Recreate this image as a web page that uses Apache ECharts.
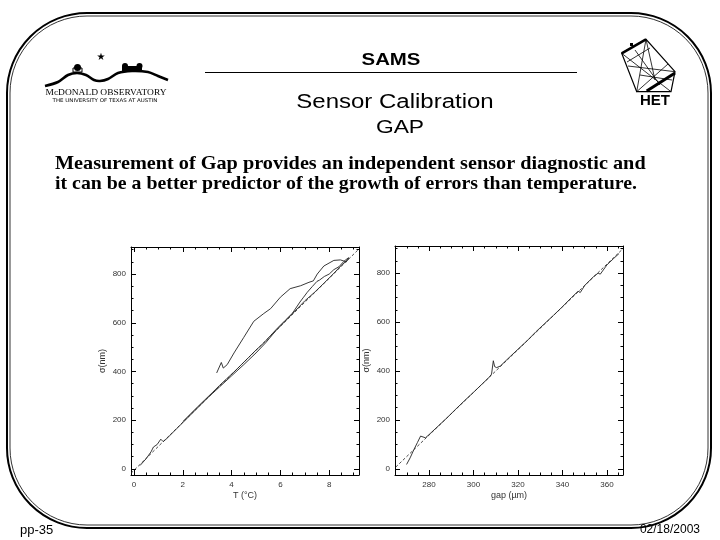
<!DOCTYPE html>
<html>
<head>
<meta charset="utf-8">
<script src="https://cdn.jsdelivr.net/npm/echarts@6/dist/echarts.min.js"></script>
<style>
html,body{margin:0;padding:0;background:#fff;}
#c{width:720px;height:540px;}
</style>
</head>
<body>
<div id="c"></div>
<script>
// ---------- data ----------
const leftXTicks = [0, 2, 4, 6, 8];
const yTicks = [0, 200, 400, 600, 800];
const rightXTicks = [280, 300, 320, 340, 360];

const leftFit = [[-0.12, -18], [9.22, 903]];
const leftLowerA = [[0.25, 14], [0.5, 42], [0.7, 70], [0.8, 90], [0.95, 100], [1.1, 122], [1.2, 112], [1.35, 125], [1.6, 150], [2.0, 190], [2.5, 240], [3.0, 290], [3.5, 336], [4.0, 382], [4.5, 428], [5.0, 476], [5.4, 518], [5.8, 566], [6.2, 607], [6.6, 648], [7.0, 690], [7.4, 725], [7.8, 764], [8.2, 804], [8.5, 836], [8.8, 862]];
const leftLowerB = [[8.8, 868], [8.6, 852], [8.4, 830], [8.19, 818], [8.0, 800], [7.8, 790], [7.6, 775], [7.5, 770], [7.3, 748], [7.1, 725], [6.95, 705], [6.8, 685], [6.5, 640], [6.2, 610], [5.9, 580], [5.6, 548], [5.3, 515], [5.0, 488], [4.7, 458], [4.4, 428], [4.1, 398], [3.8, 370], [3.5, 342], [3.2, 312], [2.9, 283], [2.6, 254], [2.3, 224], [2.0, 194]];
const leftUpper = [[3.39, 394], [3.58, 437], [3.66, 414], [3.82, 428], [4.10, 476], [4.50, 540], [4.91, 606], [5.32, 638], [5.60, 658], [6.0, 705], [6.4, 740], [6.83, 752], [7.17, 766], [7.35, 772], [7.51, 800], [7.78, 833], [8.19, 856], [8.46, 858], [8.7, 850], [8.8, 866]];

const rightFit = [[265, 7], [367.2, 900]];
const rightData = [[269.9, 18], [271.5, 45], [273.2, 79], [274.8, 108], [276.2, 134], [277.0, 128], [278.4, 127], [280, 140], [284, 174], [288, 208], [292, 244], [296, 279], [300, 313], [304, 348], [307, 374], [308.1, 387], [308.9, 442], [309.5, 418], [310.4, 414], [312, 420], [316, 455], [320, 489], [324, 523], [328, 560], [332, 594], [336, 628], [340, 663], [344, 700], [347, 726], [348, 721], [350, 750], [354, 786], [356, 800], [357, 796], [360, 834], [363, 860], [365.4, 880]];

// ---------- helpers ----------
function range(a, b, s) { const r = []; for (let v = a; v <= b + 1e-9; v += s) r.push(+v.toFixed(4)); return r; }
const leftXMinor = range(0, 9, 0.5);
const yMinor = range(0, 900, 50);
const rightXMinor = range(265, 365, 5);

const labelFont = { fontFamily: 'Liberation Sans', fontSize: 8, color: '#333' };
const black = '#000';

function axisSet(kind, grid, min, max, majors, minors, name, nameGap) {
  const sides = kind === 'x' ? ['bottom', 'top'] : ['left', 'right'];
  const out = [];
  sides.forEach((pos, si) => {
    [true, false].forEach(isMajor => {
      const a = {
        type: 'value', gridIndex: grid, position: pos, min: min, max: max,
        axisLine: { show: isMajor, onZero: false, lineStyle: { color: black, width: 1 } },
        axisTick: { show: true, inside: true, length: isMajor ? 5 : 2.5, customValues: isMajor ? majors : minors, lineStyle: { color: black, width: 1 } },
        axisLabel: { show: isMajor && si === 0, customValues: majors, margin: kind === 'x' ? 6 : 5, ...labelFont },
        splitLine: { show: false }
      };
      if (isMajor && si === 0) {
        a.name = name; a.nameLocation = 'middle'; a.nameGap = nameGap;
        a.nameTextStyle = { fontFamily: 'Liberation Sans', fontSize: 9, color: '#333' };
      }
      out.push(a);
    });
  });
  return out;
}

const xAxes = [].concat(
  axisSet('x', 0, -0.12, 9.22, leftXTicks, leftXMinor, 'T (°C)', 16),
  axisSet('x', 1, 264.7, 367.2, rightXTicks, rightXMinor, 'gap (µm)', 16)
);
const yAxes = [].concat(
  axisSet('y', 0, -25, 911, yTicks, yMinor, 'σ(nm)', 24),
  axisSet('y', 1, -25, 911, yTicks, yMinor, 'σ(nm)', 24)
);

function lineSeries(data, xi, yi, dashed) {
  return {
    type: 'line', data: data, xAxisIndex: xi, yAxisIndex: yi, showSymbol: false, symbol: 'none',
    silent: true, animation: false,
    lineStyle: { color: '#222', width: dashed ? 0.8 : 0.9, type: dashed ? [3, 2] : 'solid' }
  };
}

// ---------- graphic (slide decoration) ----------
const g = [];
function txt(x, y, text, font, align, sx) {
  return { type: 'text', x: x, y: y, scaleX: sx || 1, style: { text: text, font: font, fill: '#000', textAlign: align, textVerticalAlign: 'middle' } };
}
// rounded border (double)
g.push({ type: 'rect', shape: { x: 7, y: 13, width: 704, height: 515, r: 80 }, style: { fill: 'none', stroke: '#000', lineWidth: 2 } });
g.push({ type: 'rect', shape: { x: 10, y: 16, width: 698, height: 509, r: 77 }, style: { fill: 'none', stroke: '#000', lineWidth: 0.8 } });
// titles
g.push(txt(391, 60, 'SAMS', 'bold 17px "Liberation Sans"', 'center', 1.2));
g.push({ type: 'line', shape: { x1: 205, y1: 72.5, x2: 577, y2: 72.5 }, style: { stroke: '#000', lineWidth: 1 } });
g.push(txt(395, 102, 'Sensor Calibration', '20px "Liberation Sans"', 'center', 1.2));
g.push(txt(400, 128, 'GAP', '19px "Liberation Sans"', 'center', 1.2));
g.push(txt(55, 164, 'Measurement of Gap provides an independent sensor diagnostic and', 'bold 19px "Liberation Serif"', 'left', 1.065));
g.push(txt(55, 184, 'it can be a better predictor of the growth of errors than temperature.', 'bold 19px "Liberation Serif"', 'left', 1.044));
g.push(txt(20, 530, 'pp-35', '13px "Liberation Sans"', 'left'));
g.push(txt(700, 530, '02/18/2003', '12px "Liberation Sans"', 'right'));
// McDonald logo
g.push({ type: 'polyline', shape: { points: [[45, 86], [58, 82], [68, 75], [77, 73], [86, 75], [94, 80], [100, 81], [108, 79], [118, 73], [132, 71], [148, 72], [158, 76], [168, 80]], smooth: 0.3 }, style: { fill: 'none', stroke: '#000', lineWidth: 2.6 } });
g.push({ type: 'circle', shape: { cx: 77.5, cy: 67.5, r: 3.5 }, style: { fill: '#000' } });
g.push({ type: 'rect', shape: { x: 73, y: 68, width: 9, height: 4 }, style: { fill: 'none', stroke: '#000', lineWidth: 1 } });
g.push({ type: 'circle', shape: { cx: 125, cy: 66, r: 3 }, style: { fill: '#000' } });
g.push({ type: 'circle', shape: { cx: 139.5, cy: 66, r: 3 }, style: { fill: '#000' } });
g.push({ type: 'rect', shape: { x: 122, y: 66, width: 20, height: 5 }, style: { fill: '#000' } });
g.push(txt(101, 57, '★', '10px "DejaVu Sans"', 'center'));
g.push(txt(106, 93, 'McDONALD OBSERVATORY', '9px "Liberation Serif"', 'center', 1.05));
g.push(txt(105, 101, 'THE UNIVERSITY OF TEXAS AT AUSTIN', '5px "DejaVu Sans"', 'center', 1.1));
// HET logo
g.push({ type: 'polygon', shape: { points: [[621.7, 53.3], [646, 39.3], [675, 71.7], [671, 91.7], [636.7, 91.7]] }, style: { fill: 'none', stroke: '#000', lineWidth: 1.2 } });
g.push({ type: 'line', shape: { x1: 621.7, y1: 53.3, x2: 646, y2: 39.3 }, style: { stroke: '#000', lineWidth: 2.5 } });
g.push({ type: 'line', shape: { x1: 646.7, y1: 91, x2: 675, y2: 73 }, style: { stroke: '#000', lineWidth: 3 } });
g.push({ type: 'rect', shape: { x: 630, y: 43, width: 3, height: 3 }, style: { fill: '#000' } });
const hetLines = [[621.7, 53.3, 671, 91.7], [646, 39.3, 636.7, 91.7], [628, 66, 675, 71.7], [635, 50, 660, 85], [646, 39.3, 655, 80], [627, 62, 650, 48], [636.7, 91.7, 668, 64], [640, 75, 672, 80]];
hetLines.forEach(l => g.push({ type: 'line', shape: { x1: l[0], y1: l[1], x2: l[2], y2: l[3] }, style: { stroke: '#000', lineWidth: 0.8 } }));
g.push(txt(655, 101, 'HET', 'bold 15px "Liberation Sans"', 'center'));

const chart = echarts.init(document.getElementById('c'), null, { renderer: 'canvas' });
chart.setOption({
  animation: false,
  backgroundColor: '#fff',
  grid: [
    { left: 131, top: 247, width: 228, height: 228 },
    { left: 395, top: 246, width: 228, height: 229 }
  ],
  xAxis: xAxes,
  yAxis: yAxes,
  series: [
    lineSeries(leftFit, 0, 0, true),
    lineSeries(leftLowerA, 0, 0, false),
    lineSeries(leftLowerB, 0, 0, false),
    lineSeries(leftUpper, 0, 0, false),
    lineSeries(rightFit, 4, 4, true),
    lineSeries(rightData, 4, 4, false)
  ],
  graphic: g
});
</script>
</body>
</html>
